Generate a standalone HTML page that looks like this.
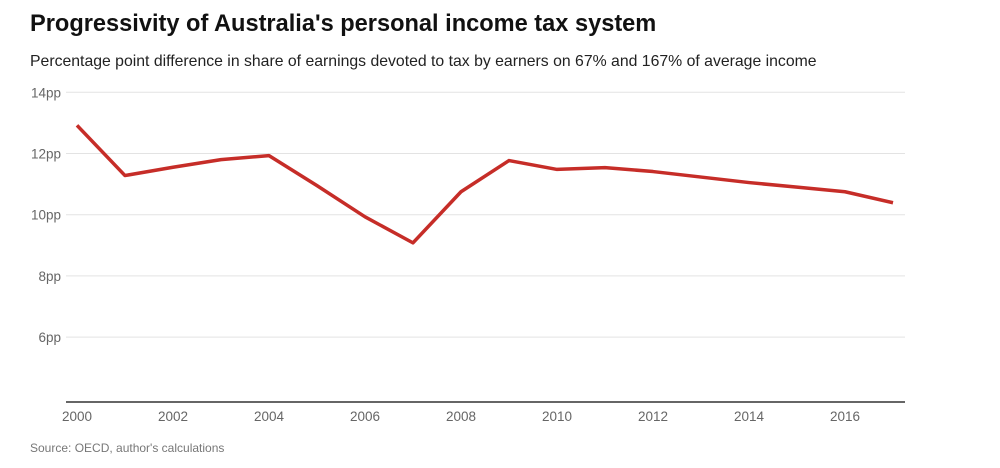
<!DOCTYPE html>
<html><head><meta charset="utf-8"><style>
body{margin:0;background:#fff;width:1000px;height:463px;overflow:hidden;font-family:"Liberation Sans",sans-serif}
</style></head><body>
<svg width="1000" height="463" id="c">
<text x="30" y="31" font-size="23.6" font-weight="bold" fill="#111">Progressivity of Australia's personal income tax system</text>
<text x="30" y="66" font-size="15.8" fill="#222">Percentage point difference in share of earnings devoted to tax by earners on 67% and 167% of average income</text>
<text x="30" y="452" font-size="12" fill="#777">Source: OECD, author's calculations</text>
<g id="grid"></g><g id="xt"></g>
<line x1="66" x2="905" y1="402" y2="402" stroke="#333" stroke-width="1.5"/>
<polyline id="ln" fill="none" stroke="#c62d28" stroke-width="3.5" stroke-linejoin="round"/>
</svg>
<script>
const years=[2000,2001,2002,2003,2004,2005,2006,2007,2008,2009,2010,2011,2012,2013,2014,2015,2016,2017];
const values=[12.92,11.28,11.55,11.8,11.93,10.95,9.93,9.08,10.75,11.77,11.48,11.54,11.41,11.23,11.05,10.9,10.75,10.39];
const yTicks=[14,12,10,8,6];
const xTicks=[2000,2002,2004,2006,2008,2010,2012,2014,2016];
const X=y=>77+48*(y-2000), Y=v=>92.3+(14-v)*30.6;
const ns="http://www.w3.org/2000/svg";
const g=document.getElementById('grid'), xt=document.getElementById('xt');
yTicks.forEach(t=>{
 const l=document.createElementNS(ns,'line');
 l.setAttribute('x1',66);l.setAttribute('x2',905);l.setAttribute('y1',Y(t));l.setAttribute('y2',Y(t));
 l.setAttribute('stroke','#e3e3e3');
 
 
 g.appendChild(l);
 const tx=document.createElementNS(ns,'text');
 tx.setAttribute('x',61);tx.setAttribute('y',Y(t)+5);tx.setAttribute('text-anchor','end');
 tx.setAttribute('font-size','13.5');tx.setAttribute('fill','#666');tx.textContent=t+'pp';
 
 
 g.appendChild(tx);
});
xTicks.forEach(t=>{
 const tx=document.createElementNS(ns,'text');
 tx.setAttribute('x',X(t));tx.setAttribute('y',421);tx.setAttribute('text-anchor','middle');
 tx.setAttribute('font-size','13.5');tx.setAttribute('fill','#666');tx.textContent=t;
 
 
 xt.appendChild(tx);
});
document.getElementById('ln').setAttribute('points',years.map((y,i)=>X(y)+','+Y(values[i])).join(' '));
</script>
</body></html>
